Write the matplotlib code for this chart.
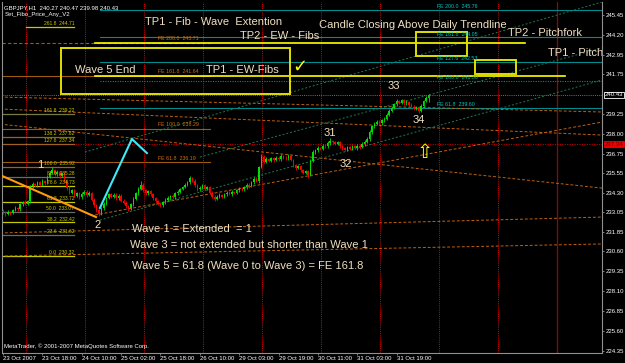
import numpy as np
import matplotlib.pyplot as plt

plt.rcParams['font.family'] = ['Liberation Sans', 'DejaVu Sans']
NARROW = ['Liberation Sans Narrow', 'Liberation Sans', 'DejaVu Sans']

# GBPJPY H1 closes, bar 0 = 23 Oct 02:00
closes = [233.05, 232.95, 233.10, 233.00, 233.20, 233.35, 233.25, 233.55, 233.70, 233.60,
          233.75, 234.70, 234.85, 234.75, 234.95, 234.80, 235.00, 234.90, 235.30, 235.55,
          235.70, 235.45, 235.60, 235.35, 235.50, 235.05, 234.60, 234.30, 234.45, 234.10,
          234.25, 234.00, 234.20, 234.35, 234.15, 234.30, 233.85, 233.50, 233.20, 232.95,
          233.30, 233.60, 233.95, 234.20, 234.05, 234.15, 233.95, 234.10, 233.80, 233.65,
          233.45, 233.30, 233.55, 233.90, 234.25, 234.55, 234.80, 234.45, 234.25, 234.40,
          234.20, 233.95, 233.75, 233.60, 233.50, 233.70, 233.85, 233.95, 234.10, 234.00,
          234.25, 234.35, 234.50, 234.65, 234.80, 234.95, 235.20, 235.05, 234.75, 234.50,
          234.60, 234.75, 234.55, 234.65, 234.30, 234.05, 233.90, 234.05, 234.15, 234.05,
          234.20, 234.30, 234.20, 234.35, 234.30, 234.45, 234.55, 234.50, 234.65, 234.80,
          234.70, 234.95, 235.15, 235.05, 235.90, 236.55, 236.25, 236.40, 236.30, 236.45,
          236.35, 236.50, 236.40, 236.60, 236.50, 236.45, 236.60, 236.35, 236.00, 235.85,
          235.95, 235.70, 235.55, 235.65, 235.40, 236.30, 236.85, 236.95, 237.10, 237.05,
          237.25, 237.20, 237.40, 237.55, 237.45, 237.35, 237.45, 237.20, 237.10, 237.00,
          237.15, 237.05, 237.20, 237.10, 237.25, 237.15, 237.35, 237.50, 237.65, 238.10,
          238.45, 238.60, 238.75, 238.65, 238.85, 238.95, 239.20, 239.45, 239.60, 239.85,
          240.05, 239.95, 240.10, 239.90, 240.00, 239.80, 239.70, 239.55, 239.65, 239.45,
          239.75, 240.05, 240.27, 240.43]
first_open = 233.15
# wick lengths in pips
hi_wick = [10, 8, 12, 6, 9, 11, 7, 10, 8, 12, 6, 9, 14, 8, 10, 7, 12, 9, 11, 10,
           22, 9, 12, 8, 10, 7, 9, 12, 8, 10, 9, 7, 11, 8, 10, 9, 6, 8, 7, 10,
           9, 12, 8, 10, 7, 11, 9, 8, 10, 7, 9, 8, 10, 12, 9, 11, 20, 8, 10, 9,
           7, 9, 8, 10, 6, 9, 8, 11, 7, 10, 9, 8, 10, 9, 12, 8, 15, 10, 9, 8,
           11, 9, 10, 8, 7, 9, 10, 8, 11, 7, 9, 10, 8, 9, 7, 10, 8, 11, 9, 10,
           8, 9, 12, 10, 8, 15, 10, 12, 9, 11, 8, 10, 9, 12, 8, 10, 11, 9, 8, 10,
           9, 7, 10, 8, 9, 12, 10, 9, 11, 8, 10, 9, 12, 15, 8, 10, 9, 8, 10, 7,
           9, 8, 10, 7, 9, 8, 10, 9, 12, 10, 9, 11, 8, 10, 9, 12, 10, 9, 11, 10,
           12, 9, 8, 10, 9, 7, 10, 8, 9, 6, 10, 8, 9, 4]
lo_wick = [9, 12, 8, 10, 7, 9, 11, 8, 10, 7, 9, 8, 10, 12, 8, 9, 7, 10, 9, 8,
           10, 8, 9, 11, 7, 10, 12, 9, 8, 11, 7, 10, 9, 8, 11, 9, 10, 8, 12, 15,
           8, 10, 9, 7, 11, 8, 10, 9, 8, 10, 9, 14, 8, 10, 7, 9, 8, 11, 10, 8,
           9, 10, 8, 11, 12, 8, 9, 7, 10, 8, 9, 8, 10, 7, 9, 8, 10, 9, 11, 8,
           10, 7, 9, 8, 11, 9, 12, 8, 10, 9, 8, 9, 7, 10, 8, 9, 11, 8, 9, 10,
           9, 8, 10, 9, 12, 8, 9, 10, 8, 9, 10, 8, 9, 11, 8, 9, 10, 8, 9, 12,
           8, 10, 9, 11, 18, 9, 8, 10, 9, 8, 9, 10, 8, 9, 11, 8, 9, 10, 12, 9,
           8, 10, 9, 8, 10, 9, 8, 10, 9, 11, 10, 9, 8, 11, 9, 10, 8, 9, 10, 8,
           9, 10, 8, 11, 9, 10, 12, 9, 8, 14, 9, 10, 8, 29]

date_ticks = [0, 16, 32, 48, 64, 80, 96, 112, 128, 144, 160]
date_labels = ['23 Oct 2007', '23 Oct 18:00', '24 Oct 10:00', '25 Oct 02:00', '25 Oct 18:00',
               '26 Oct 10:00', '29 Oct 03:00', '29 Oct 19:00', '30 Oct 11:00', '31 Oct 03:00',
               '31 Oct 19:00']
price_ticks = [245.45, 244.20, 242.95, 241.75, 239.25, 238.00, 236.75, 235.55, 234.30,
               233.05, 231.85, 230.60, 229.35, 228.10, 226.85, 225.60, 224.35]
last_price = 240.43
red_level = 237.34
day_seps = [9.35, 33.35, 57.35, 81.35, 105.35, 129.35, 153.35, 177.35, 201.35, 225.35]

fe_cyan_names = ['FE 200.0', 'FE 161.8', 'FE 127.6', 'FE 100.0', 'FE 61.8']
fe_cyan_prices = [245.76, 244.05, 242.53, 241.30, 239.60]
fe_orange_names = ['FE 200.0', 'FE 161.8', 'FE 100.0', 'FE 61.8']
fe_orange_prices = [243.71, 241.64, 238.29, 236.19]
fib_names = ['261.8', '161.8', '138.2', '127.6', '100.0', '88.6', '78.6', '61.8', '50.0',
             '38.2', '23.6', '0.0']
fib_prices = [244.71, 239.22, 237.82, 237.34, 235.92, 235.28, 234.73, 233.72, 233.07,
              232.42, 231.62, 230.32]

# sloping channel / pitchfork lines: (bar0, price0, bar1, price1)
orange_lines = [(-1.2, 240.30, 243.5, 239.36), (-1.2, 239.55, 243.5, 237.91),
                (-1.2, 238.60, 243.5, 234.58), (37.4, 232.89, 243.5, 238.73),
                (-1.2, 231.76, 243.5, 232.76), (-1.2, 230.31, 243.5, 231.07)]
green_lines = [(33.3, 236.84, 243.5, 246.27), (80.1, 236.53, 243.5, 243.38),
               (39.4, 232.57, 243.5, 241.37)]
wave_bars = [39.4, 52.4, 58.5]
wave_prices = [233.33, 237.66, 236.78]
trend_bars = [-1.2, 37.8]
trend_prices = [235.40, 232.76]
tp_lines = [(37.4, 212.2, 243.71), (37.4, 228.5, 241.62)]
# boxes: bar0, bar1, price_lo, price_hi
boxes = [(23.6, 116.7, 240.49, 243.38), (167.9, 188.6, 242.87, 244.38),
         (191.9, 208.5, 241.74, 242.62)]

notes = [('TP1 - Fib - Wave  Extention', 57.7, 245.01), ('TP2 - EW - Fibs', 96.3, 244.13),
         ('Candle Closing Above Daily Trendline', 128.5, 244.82),
         ('TP2 - Pitchfork', 205.3, 244.32), ('TP1 - Pitch', 221.5, 243.06),
         ('Wave 5 End', 29.3, 241.99), ('TP1 - EW-Fibs', 82.5, 241.99),
         ('1', 14.0, 236.05), ('2', 37.0, 232.26), ('31', 130.3, 238.04),
         ('32', 137.0, 236.09), ('33', 156.3, 240.99), ('34', 166.3, 238.85),
         ('Wave 1 = Extended  = 1', 52.4, 232.01),
         ('Wave 3 = not extended but shorter than Wave 1', 51.6, 231.0),
         ('Wave 5 = 61.8 (Wave 0 to Wave 3) = FE 161.8', 52.4, 229.68)]

W, H = 625, 363
fig = plt.figure(figsize=(W / 100, H / 100), dpi=100, facecolor='black')
ax = fig.add_axes([2 / W, 10 / H, 600 / W, 351 / H])
ax.set_facecolor('black')
ax.set_xlim(-0.4, 243.5)
ax.set_ylim(224.22, 246.27)

closes = np.array(closes)
opens = np.concatenate([[first_open], closes[:-1]])
highs = np.maximum(opens, closes) + np.array(hi_wick) / 100
lows = np.minimum(opens, closes) - np.array(lo_wick) / 100
idx = np.arange(len(closes))

dot = (0, (1, 1.2))
dash = (0, (3, 2))

for b in day_seps[:-1]:
    ax.axvline(b, color='#e00000', lw=0.7, ls=dot, zorder=1)
ax.axvline(day_seps[-1], color='#a00000', lw=0.9, zorder=1)

ax.axhline(red_level, color='#c00000', lw=0.8, ls=dot, zorder=1)
ax.axhline(last_price, color='#707070', lw=0.7, ls=dot, zorder=1)

for name, p in zip(fe_cyan_names, fe_cyan_prices):
    ls = dot if name == 'FE 100.0' else '-'
    ax.plot([39.5, 243.5], [p, p], color='#008c8c', lw=0.8, ls=ls, zorder=2)
    ax.text(176.5, p + 0.05, f'{name}  {p:.2f}', color='#00c8c8', fontsize=3.8,
            family=NARROW, va='bottom', zorder=5)

for name, p in zip(fe_orange_names, fe_orange_prices):
    ls = dash if name == 'FE 200.0' else '-'
    ax.plot([-0.4, 84], [p, p], color='#a05a10', lw=0.8, ls=ls, zorder=2)
    ax.text(63, p + 0.12, f'{name}  {p:.2f}', color='#d07010', fontsize=3.8,
            family=NARROW, va='bottom', zorder=5)

fib_colors = ['#c8c800', '#7a7a40', '#a06020', '#a06020', '#a06020', '#6a6a6a',
              '#c8c800', '#c8c800', '#6a6a6a', '#c8c800', '#6a6a6a', '#c8c800']
for name, p, c in zip(fib_names, fib_prices, fib_colors):
    x0 = 9.3 if name == '261.8' else -0.4
    ax.plot([x0, 29], [p, p], color=c, lw=0.9, zorder=2)
    ax.text(29, p + 0.06, f'{name}  {p:.2f}', color='#c8c800', fontsize=3.6,
            family=NARROW, ha='right', va='bottom', zorder=5)

for b0, p0, b1, p1 in orange_lines:
    ax.plot([b0, b1], [p0, p1], color='#c06010', lw=0.7, ls=dash, zorder=2)
for b0, p0, b1, p1 in green_lines:
    ax.plot([b0, b1], [p0, p1], color='#1f7a50', lw=0.7, ls=(0, (2, 2)), zorder=2)

for b0, b1, p in tp_lines:
    ax.plot([b0, b1], [p, p], color='#ffff00', lw=1.2, zorder=3)
for b0, b1, lo, hi in boxes:
    ax.add_patch(plt.Rectangle((b0, lo), b1 - b0, hi - lo, fill=False,
                               ec='#e0e000', lw=1.4, zorder=3))

# candles
up = closes >= opens
col = np.where(up, '#00e000', '#ff0000')
ax.vlines(idx, lows, highs, colors=col, lw=0.6, zorder=4)
body = np.where(np.abs(closes - opens) < 0.02, 0.02, closes - opens)
ax.bar(idx, body, bottom=opens, width=0.6, color=col, lw=0, zorder=4)

ax.plot(wave_bars, wave_prices, color='#40e8f8', lw=1.5, zorder=5)
ax.plot(trend_bars, trend_prices, color='#ff9a10', lw=1.5, zorder=5)

ax.text(120.5, 242.2, '\u2713', color='#ffff00', fontsize=13, family='DejaVu Sans',
        ha='center', va='center', zorder=6)
ax.text(171.6, 236.8, '\u21e7', color='#ffff00', fontsize=14, family='DejaVu Sans',
        ha='center', va='center', zorder=6)

for t, b, p in notes:
    ax.text(b, p, t, color='#f0e0c0', fontsize=8, va='center', ha='left',
            clip_on=True, zorder=6)

ax.text(0.004, 0.992, 'GBPJPY,H1  240.27 240.47 239.98 240.43', transform=ax.transAxes,
        color='white', fontsize=4.3, family=NARROW, va='top')
ax.text(0.004, 0.972, 'Set_Fibo_Price_Any_V2', transform=ax.transAxes,
        color='white', fontsize=4.3, family=NARROW, va='top')
ax.text(0.003, 0.012, 'MetaTrader, \u00a9 2001-2007 MetaQuotes Software Corp.',
        transform=ax.transAxes, color='white', fontsize=4.3, family=NARROW, va='bottom')

# axes
for s in ax.spines.values():
    s.set_color('#909090')
    s.set_linewidth(0.8)
ax.spines['top'].set_visible(False)
ax.yaxis.tick_right()
ax.set_yticks(price_ticks)
ax.set_yticklabels([f'{v:.2f}' for v in price_ticks], family=NARROW)
ax.set_xticks(date_ticks)
ax.set_xticklabels(date_labels, family=NARROW, ha='left')
ax.tick_params(colors='#909090', labelcolor='white', labelsize=4.3, length=1.5,
               width=0.6, pad=0.8)

ytr = ax.get_yaxis_transform()
ax.text(1.004, last_price, f'{last_price:.2f}', transform=ytr, color='white', fontsize=4.3,
        family=NARROW, va='center', ha='left',
        bbox=dict(fc='black', ec='white', lw=0.6, pad=0.6))
ax.text(1.004, red_level, f'{red_level:.2f}', transform=ytr, color='#500000', fontsize=4.3,
        family=NARROW, va='center', ha='left',
        bbox=dict(fc='#f00000', ec='#f00000', lw=0.6, pad=0.6))

fig.savefig('out.png', dpi=100, facecolor='black')
